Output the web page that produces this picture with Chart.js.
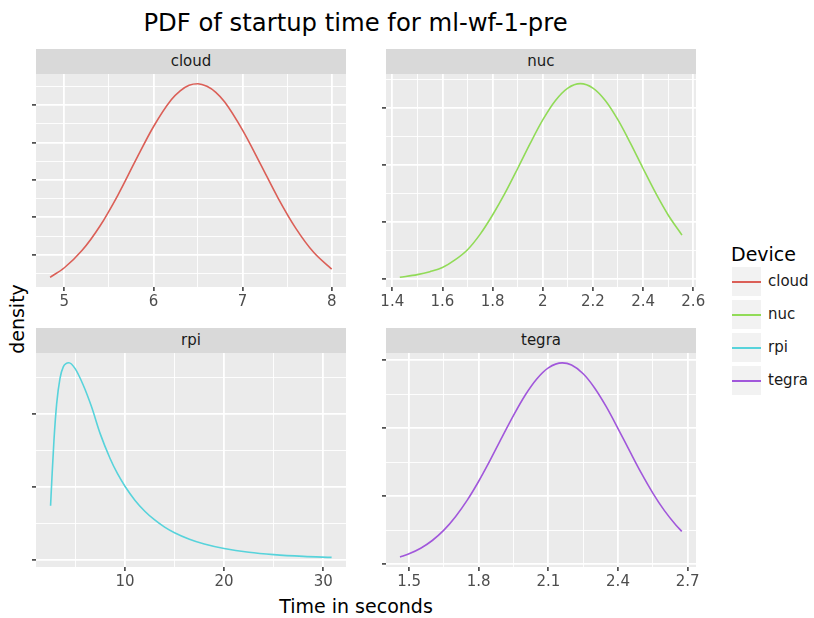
<!DOCTYPE html>
<html>
<head>
<meta charset="utf-8">
<title>PDF of startup time for ml-wf-1-pre</title>
<script src="https://cdn.jsdelivr.net/npm/chart.js@4.4.0/dist/chart.umd.min.js"></script>
<style>
  body { margin: 0; background: #fff; font-family: 'DejaVu Sans', sans-serif; }
  #fig { position: relative; width: 814px; height: 618px; overflow: hidden; }
  .abs { position: absolute; }
  .strip { position: absolute; background: #d9d9d9; color: #1a1a1a; font-size: 15px; text-align: center; height: 25px; line-height: 25px; }
  .key { position: absolute; left: 732px; width: 29px; height: 29px; background: #f2f2f2; }
  .key span { position: absolute; left: 0; right: 0; top: 13.5px; height: 2px; }
  .klab { position: absolute; left: 768px; font-size: 15px; color: #1a1a1a; line-height: 29px; }
</style>
</head>
<body>
<div id="fig">
  <div class="abs" style="left:0;width:711px;top:11px;text-align:center;font-size:24.3px;line-height:24px;color:#000;">PDF of startup time for ml-wf-1-pre</div>
  <div class="abs" style="left:-33px;top:309px;width:100px;height:20px;line-height:20px;text-align:center;font-size:19px;transform:rotate(-90deg);color:#000;">density</div>
  <div class="abs" style="left:256px;width:200px;top:597px;text-align:center;font-size:19px;line-height:19px;color:#000;">Time in seconds</div>

  <div class="abs" style="left:731px;top:245px;font-size:19px;line-height:19px;color:#000;">Device</div>
  <div class="key" style="top:267px"><span style="background:#db5f57"></span></div>
  <div class="key" style="top:300px"><span style="background:#91db57"></span></div>
  <div class="key" style="top:333px"><span style="background:#57d3db"></span></div>
  <div class="key" style="top:366px"><span style="background:#a157db"></span></div>
  <div class="klab" style="top:267px">cloud</div>
  <div class="klab" style="top:300px">nuc</div>
  <div class="klab" style="top:333px">rpi</div>
  <div class="klab" style="top:366px">tegra</div>
</div>

<script>
// ---- data ----
const devices = ['cloud', 'nuc', 'rpi', 'tegra'];
const colors = ['#db5f57', '#91db57', '#57d3db', '#a157db'];

const cloudX = [4.84, 5.0, 5.2, 5.4, 5.6, 5.8, 6.0, 6.2, 6.3, 6.4, 6.5, 6.6, 6.7, 6.8, 7.0, 7.2, 7.4, 7.6, 7.8, 8.0];
const cloudY = [0.040, 0.0655, 0.112, 0.177, 0.259, 0.352, 0.442, 0.514, 0.538, 0.553, 0.557, 0.550, 0.534, 0.508, 0.433, 0.343, 0.251, 0.170, 0.106, 0.062];

const nucX = [1.43, 1.5, 1.55, 1.6, 1.65, 1.7, 1.75, 1.8, 1.85, 1.9, 1.95, 2.0, 2.05, 2.1, 2.15, 2.2, 2.25, 2.3, 2.35, 2.4, 2.45, 2.5, 2.555];
const nucY = [0.012, 0.036, 0.062, 0.098, 0.165, 0.255, 0.39, 0.56, 0.754, 0.969, 1.19, 1.396, 1.565, 1.676, 1.715, 1.676, 1.565, 1.396, 1.19, 0.969, 0.754, 0.56, 0.383];

const rpiX = [2.5, 2.64, 2.84, 3.11, 3.45, 3.78, 4.35, 4.96, 5.8, 6.64, 7.5, 8.5, 9.25, 10, 11, 12, 13, 14, 15, 16.5, 18, 20, 22.5, 25, 28, 30.84];
const rpiY = [0.0371, 0.0567, 0.082, 0.107, 0.1247, 0.1327, 0.1355, 0.1316, 0.120, 0.105, 0.0867, 0.0696, 0.0591, 0.0505, 0.0409, 0.0333, 0.0273, 0.0224, 0.0185, 0.0140, 0.0107, 0.0076, 0.0050, 0.0034, 0.0022, 0.0015];

const tegraX = [1.461, 1.5, 1.55, 1.6, 1.65, 1.7, 1.75, 1.8, 1.85, 1.9, 1.95, 2.0, 2.05, 2.1, 2.16, 2.2, 2.25, 2.3, 2.35, 2.4, 2.45, 2.5, 2.55, 2.6, 2.65, 2.675];
const tegraY = [0.052, 0.075, 0.116, 0.173, 0.249, 0.348, 0.468, 0.609, 0.766, 0.932, 1.094, 1.242, 1.362, 1.444, 1.48, 1.464, 1.400, 1.294, 1.156, 0.997, 0.832, 0.670, 0.522, 0.393, 0.286, 0.240];

// tick breaks (majors labelled on x only, y labels are blank in the original)
const cloudXTicks = [5, 6, 7, 8];
const cloudXLabels = ['5', '6', '7', '8'];
const cloudXMinor = [5.5, 6.5, 7.5];
const cloudYTicks = [0.1, 0.2, 0.3, 0.4, 0.5];
const cloudYMinor = [0.05, 0.15, 0.25, 0.35, 0.45, 0.55];

const nucXTicks = [1.4, 1.6, 1.8, 2.0, 2.2, 2.4, 2.6];
const nucXLabels = ['1.4', '1.6', '1.8', '2', '2.2', '2.4', '2.6'];
const nucXMinor = [1.5, 1.7, 1.9, 2.1, 2.3, 2.5];
const nucYTicks = [0, 0.5, 1.0, 1.5];
const nucYMinor = [0.25, 0.75, 1.25, 1.75];

const rpiXTicks = [10, 20, 30];
const rpiXLabels = ['10', '20', '30'];
const rpiXMinor = [5, 15, 25];
const rpiYTicks = [0, 0.05, 0.1];
const rpiYMinor = [0.025, 0.075, 0.125];

const tegraXTicks = [1.5, 1.8, 2.1, 2.4, 2.7];
const tegraXLabels = ['1.5', '1.8', '2.1', '2.4', '2.7'];
const tegraXMinor = [1.65, 1.95, 2.25, 2.55];
const tegraYTicks = [0, 0.5, 1.0, 1.5];
const tegraYMinor = [0.25, 0.75, 1.25];

// ---- drawing ----
Chart.defaults.font.family = "'DejaVu Sans', sans-serif";
Chart.defaults.animation = false;

const panelBg = {
    id: 'panelBg',
    beforeDraw(chart) {
        const { ctx, chartArea: a } = chart;
        ctx.save();
        ctx.fillStyle = '#ebebeb';
        ctx.fillRect(a.left, a.top, a.right - a.left, a.bottom - a.top);
        ctx.restore();
    }
};

const STRIP = 25, YAXIS = 10, RIGHTPAD = 16, XAXIS = 28;

function breakTicks(major, minor) {
    return (scale) => {
        const all = major.map(v => ({ value: v, minor: false }))
            .concat(minor.map(v => ({ value: v, minor: true })));
        all.sort((a, b) => a.value - b.value);
        scale.ticks = all;
    };
}

const gridStyle = {
    color: '#ffffff',
    lineWidth: ctx => (ctx.tick && ctx.tick.minor) ? 0.9 : 1.8,
    tickColor: ctx => (ctx.tick && ctx.tick.minor) ? 'rgba(0,0,0,0)' : '#333333',
    tickWidth: 1.5,
    tickLength: 4,
    drawTicks: true
};

function makePanel(p) {
    const fig = document.getElementById('fig');

    const strip = document.createElement('div');
    strip.className = 'strip';
    strip.style.left = p.left + 'px';
    strip.style.top = (p.top - STRIP) + 'px';
    strip.style.width = (p.right - p.left) + 'px';
    strip.textContent = p.name;
    fig.appendChild(strip);

    const w = (p.right - p.left) + YAXIS + RIGHTPAD;
    const h = STRIP + (p.bottom - p.top) + XAXIS;
    const canvas = document.createElement('canvas');
    canvas.width = w;
    canvas.height = h;
    canvas.style.position = 'absolute';
    canvas.style.left = (p.left - YAXIS) + 'px';
    canvas.style.top = (p.top - STRIP) + 'px';
    canvas.style.width = w + 'px';
    canvas.style.height = h + 'px';
    fig.appendChild(canvas);

    new Chart(canvas.getContext('2d'), {
        type: 'line',
        data: {
            datasets: [{
                label: p.name,
                data: p.xs.map((x, i) => ({ x: x, y: p.ys[i] })),
                borderColor: p.color,
                borderWidth: 1.6,
                pointRadius: 0,
                fill: false,
                cubicInterpolationMode: 'monotone'
            }]
        },
        options: {
            responsive: false,
            devicePixelRatio: 1,
            layout: { padding: { top: STRIP, right: RIGHTPAD, left: 0, bottom: 0 } },
            plugins: { legend: { display: false }, tooltip: { enabled: false } },
            scales: {
                x: {
                    type: 'linear',
                    position: 'bottom',
                    min: p.xLim[0],
                    max: p.xLim[1],
                    afterBuildTicks: breakTicks(p.xTicks, p.xMinor),
                    afterFit: s => { s.height = XAXIS; },
                    border: { display: false },
                    grid: gridStyle,
                    ticks: {
                        autoSkip: false,
                        maxRotation: 0,
                        padding: 2,
                        color: '#4d4d4d',
                        font: { size: 15 },
                        callback: v => {
                            const i = p.xTicks.indexOf(v);
                            return i >= 0 ? p.xLabels[i] : '';
                        }
                    }
                },
                y: {
                    type: 'linear',
                    position: 'left',
                    min: p.yLim[0],
                    max: p.yLim[1],
                    afterBuildTicks: breakTicks(p.yTicks, p.yMinor),
                    afterFit: s => { s.width = YAXIS; },
                    border: { display: false },
                    grid: gridStyle,
                    ticks: { display: false }
                }
            }
        },
        plugins: [panelBg]
    });
}

makePanel({ name: devices[0], color: colors[0], xs: cloudX, ys: cloudY,
    left: 36, right: 346, top: 74, bottom: 287,
    xLim: [4.682, 8.161], yLim: [0.0141, 0.5829],
    xTicks: cloudXTicks, xLabels: cloudXLabels, xMinor: cloudXMinor, yTicks: cloudYTicks, yMinor: cloudYMinor });

makePanel({ name: devices[1], color: colors[1], xs: nucX, ys: nucY,
    left: 386, right: 696, top: 74, bottom: 287,
    xLim: [1.375, 2.611], yLim: [-0.073, 1.80],
    xTicks: nucXTicks, xLabels: nucXLabels, xMinor: nucXMinor, yTicks: nucYTicks, yMinor: nucYMinor });

makePanel({ name: devices[2], color: colors[2], xs: rpiX, ys: rpiY,
    left: 36, right: 346, top: 353, bottom: 567,
    xLim: [1.03, 32.29], yLim: [-0.0051, 0.1422],
    xTicks: rpiXTicks, xLabels: rpiXLabels, xMinor: rpiXMinor, yTicks: rpiYTicks, yMinor: rpiYMinor });

makePanel({ name: devices[3], color: colors[3], xs: tegraX, ys: tegraY,
    left: 386, right: 696, top: 353, bottom: 567,
    xLim: [1.4007, 2.736], yLim: [-0.022, 1.553],
    xTicks: tegraXTicks, xLabels: tegraXLabels, xMinor: tegraXMinor, yTicks: tegraYTicks, yMinor: tegraYMinor });
</script>
</body>
</html>
